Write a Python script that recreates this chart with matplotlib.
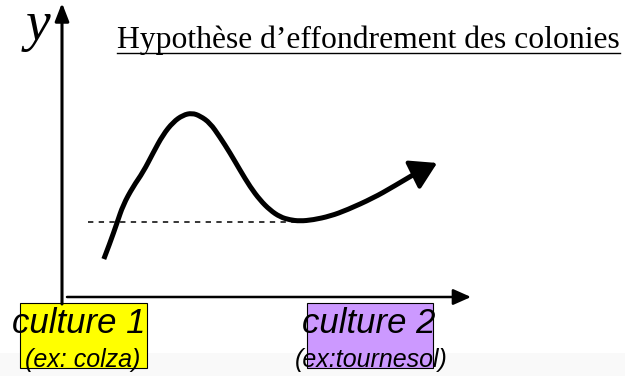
import matplotlib.pyplot as plt
from matplotlib.patches import Rectangle, PathPatch
from matplotlib.path import Path

# curve, units: x 0-100 along the horizontal axis, y 0-100 up the vertical one
curve_x = [10.2, 11.7, 13.4, 14.9, 17.3, 19.8, 22.2, 24.6, 27.1, 29.5, 31.7, 33.7, 36.1, 38.5, 41.0,
           43.4, 45.9, 48.3, 50.7, 53.2, 55.6, 58.0, 61.2, 65.4, 69.5, 75.9, 80.7, 85.6, 91.5]
curve_y = [13.0, 18.5, 25.3, 31.5, 37.7, 42.8, 49.3, 55.5, 59.9, 62.3, 63.0, 62.0, 59.6, 54.8, 49.3,
           43.5, 37.7, 33.2, 29.8, 27.4, 26.4, 26.0, 26.4, 27.7, 29.8, 33.9, 37.7, 41.8, 45.9]

# dashed reference level (level of culture 1 / minimum after the crash)
base_x = [6.3, 58.0]
base_y = [25.7, 25.7]

title = "Hypothèse d\u2019effondrement des colonies"
cultures = ["culture 1", "culture 2"]
examples = ["(ex: colza)", "(ex:tournesol)"]
box_colors = ["#ffff00", "#cc99ff"]

W, H = 625, 376
fig = plt.figure(figsize=(W / 100, H / 100), dpi=100)

# overlay in pixel units for the frame, labels and boxes
ax = fig.add_axes([0, 0, 1, 1])
ax.set_xlim(0, W)
ax.set_ylim(H, 0)
ax.axis('off')

# faint grey band at the bottom of the slide
ax.add_patch(Rectangle((0, 353), W, 23, color='#f9f9f9', lw=0, zorder=0))

# axes with arrows
ax.annotate('', xy=(62, 3), xytext=(62, 304),
            arrowprops=dict(arrowstyle='-|>,head_length=0.9,head_width=0.35', lw=2.2,
                            color='k', mutation_scale=12, shrinkA=0, shrinkB=0))
ax.annotate('', xy=(471, 297), xytext=(67, 297),
            arrowprops=dict(arrowstyle='-|>,head_length=0.9,head_width=0.4', lw=1.8,
                            color='k', mutation_scale=12, shrinkA=0, shrinkB=0))

ax.text(26, 40, 'y', family='Liberation Serif', style='italic', fontsize=40, va='baseline')

t = ax.text(117, 48, title, family='Liberation Serif', fontsize=22.8, va='baseline')
fig.canvas.draw()
bb = t.get_window_extent(fig.canvas.get_renderer())
ax.plot([bb.x0, bb.x1], [53, 53], color='k', lw=1.0)

# culture boxes and labels
box_x = [20, 307]
box_w = [127, 126]
label_cx = [79, 369]
sub_cx = [83, 371]
for i in range(len(cultures)):
    ax.add_patch(Rectangle((box_x[i], 303), box_w[i], 65, facecolor=box_colors[i],
                           edgecolor='k', lw=0.8, zorder=2))
    ax.text(label_cx[i], 333, cultures[i], family='Liberation Sans', style='italic',
            fontsize=25, ha='center', va='baseline', zorder=3)
    ax.text(sub_cx[i], 367, examples[i], family='Liberation Sans', style='italic',
            fontsize=18, ha='center', va='baseline', zorder=3)

# data area: from the origin (62, 297) to the top of the y arrow
dax = fig.add_axes([62 / W, (H - 297) / H, 410 / W, 292 / H])
dax.set_xlim(0, 100)
dax.set_ylim(0, 100)
dax.axis('off')

dax.plot(base_x, base_y, color='k', lw=1.1, ls=(0, (3.5, 3.5)))

# smooth the hand-drawn curve: read points used as quadratic bezier controls
pts = list(zip(curve_x[:-1], curve_y[:-1]))
verts = [pts[0]]
codes = [Path.MOVETO]
for i in range(1, len(pts) - 1):
    nxt = pts[i + 1] if i == len(pts) - 2 else ((pts[i][0] + pts[i + 1][0]) / 2,
                                                (pts[i][1] + pts[i + 1][1]) / 2)
    verts += [pts[i], nxt]
    codes += [Path.CURVE3, Path.CURVE3]
dax.add_patch(PathPatch(Path(verts, codes), fill=False, lw=3.6, edgecolor='k',
                        capstyle='butt', joinstyle='round'))

dax.annotate('', xy=(curve_x[-1], curve_y[-1]), xytext=(curve_x[-2], curve_y[-2]),
             arrowprops=dict(arrowstyle='-|>,head_length=1.0,head_width=0.6', lw=3.0,
                             color='k', mutation_scale=16, shrinkA=0, shrinkB=0))

fig.savefig('out.png', dpi=100)
